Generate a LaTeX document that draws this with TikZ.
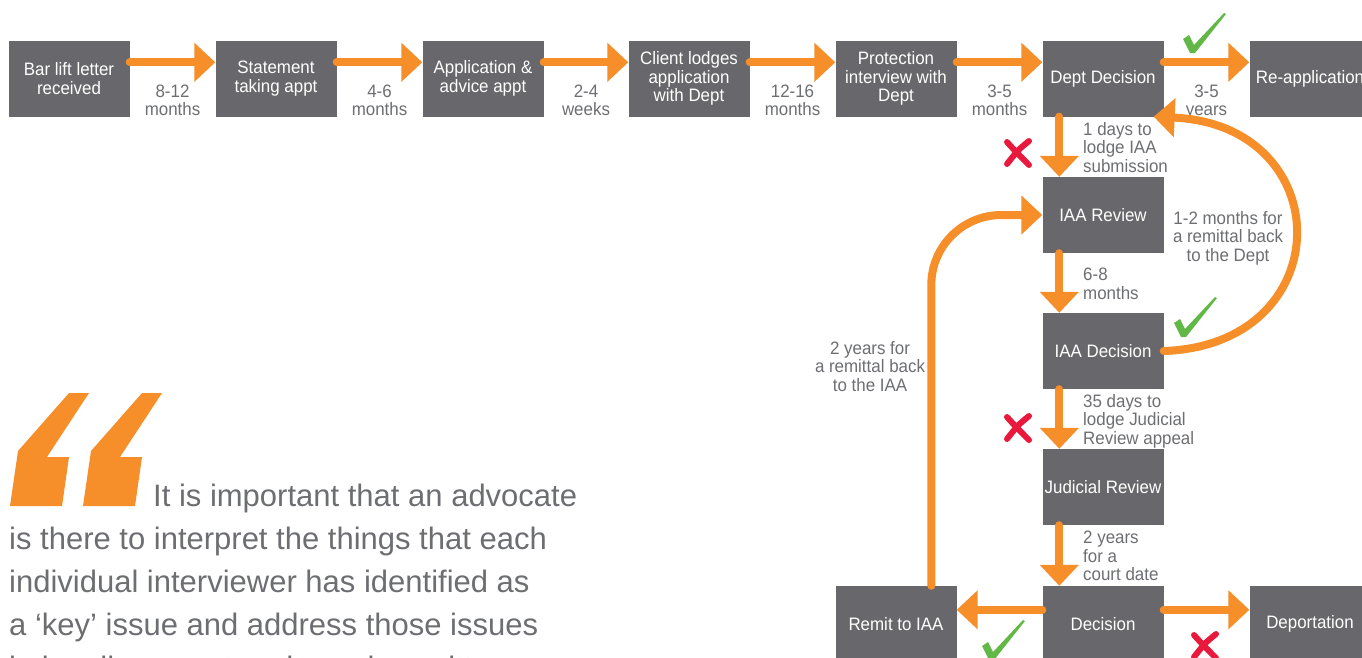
\documentclass[tikz,border=0pt]{standalone}
\usepackage{fontspec}
\setmainfont{Liberation Sans}[FakeStretch=0.94]
\newfontfamily\quotefont{Liberation Sans}
\usetikzlibrary{calc, arrows.meta}
\definecolor{BoxGrey}{RGB}{104,104,108}
\definecolor{FlowOrange}{RGB}{246,142,42}
\definecolor{LabelGrey}{RGB}{109,110,113}
\definecolor{TickGreen}{RGB}{98,184,70}
\definecolor{CrossRed}{RGB}{232,25,60}

\tikzset{
    stage/.style={fill=BoxGrey, text=white, minimum width=121pt, minimum height=76pt,
        inner sep=0pt, align=center, font=\fontsize{18}{18.5}\selectfont},
    wait/.style={text=LabelGrey, inner sep=0pt, font=\fontsize{18}{18.5}\selectfont},
    flow/.style={draw=FlowOrange, line width=8pt, line cap=round,
        -{Triangle[length=21pt,width=38pt]}},
    tickmark/.pic={\fill[TickGreen] (-10,-14) -- (-4,-18) -- (1,-8) -- (31,-40)
        -- (33,-39) -- (2,0) -- (-3,0) -- cycle;},
    crossmark/.pic={\draw[CrossRed, line width=6pt, line cap=round]
        (-11,-11) .. controls (-2,-1) .. (11,12)
        (11,-12) .. controls (0,-3) .. (-11,11);}
}

\begin{document}
\begin{tikzpicture}[x=1pt, y=-1pt]
    \useasboundingbox (0,0) rectangle (1362,657);

    % Ablauf oben
    \node[stage] (bar)       at (69,78.5)   {Bar lift letter\\received};
    \node[stage] (statement) at (276,78.5)  {Statement\\taking appt};
    \node[stage] (advice)    at (483,78.5)  {Application \&\\advice appt};
    \node[stage] (lodges)    at (689,78.5)  {Client lodges\\application\\with Dept};
    \node[stage] (protect)   at (896,78.5)  {Protection\\interview with\\Dept};
    \node[stage] (deptdec)   at (1103,78.5) {Dept Decision};
    \node[stage] (reapp)     at (1310,78.5) {Re-application};

    % Spalte rechts
    \node[stage] (iaarev)   at (1103,215) {IAA Review};
    \node[stage] (iaadec)   at (1103,351) {IAA Decision};
    \node[stage] (judrev)   at (1103,487) {Judicial Review};
    \node[stage] (decision) at (1103,624) {Decision};
    \node[stage] (remit)    at (896,624)  {Remit to IAA};
    \node[stage] (deport)   at (1310,624) {Deportation};

    \draw[flow] ($(bar.north east)+(0,22)$) -- ($(statement.north west)+(0,22)$);
    \draw[flow] ($(statement.north east)+(0,22)$) -- ($(advice.north west)+(0,22)$);
    \draw[flow] ($(advice.north east)+(0,22)$) -- ($(lodges.north west)+(0,22)$);
    \draw[flow] ($(lodges.north east)+(0,22)$) -- ($(protect.north west)+(0,22)$);
    \draw[flow] ($(protect.north east)+(0,22)$) -- ($(deptdec.north west)+(0,22)$);
    \draw[flow] ($(deptdec.north east)+(0,22)$) -- ($(reapp.north west)+(0,22)$);

    \node[wait, anchor=north, align=center] (w1) at ($(bar.east)!.5!(statement.west)+(0,6)$) {8-12\\months};
    \node[wait, anchor=north, align=center] (w2) at ($(statement.east)!.5!(advice.west)+(0,6)$) {4-6\\months};
    \node[wait, anchor=north, align=center] (w3) at ($(advice.east)!.5!(lodges.west)+(0,6)$) {2-4\\weeks};
    \node[wait, anchor=north, align=center] (w4) at ($(lodges.east)!.5!(protect.west)+(0,6)$) {12-16\\months};
    \node[wait, anchor=north, align=center] (w5) at ($(protect.east)!.5!(deptdec.west)+(0,6)$) {3-5\\months};
    \node[wait, anchor=north, align=center] (w6) at ($(deptdec.east)!.5!(reapp.west)+(0,6)$) {3-5\\years};

    \draw[flow] ($(deptdec.south west)+(17,0)$) -- ($(iaarev.north west)+(17,0)$);
    \draw[flow] ($(iaarev.south west)+(17,0)$) -- ($(iaadec.north west)+(17,0)$);
    \draw[flow] ($(iaadec.south west)+(17,0)$) -- ($(judrev.north west)+(17,0)$);
    \draw[flow] ($(judrev.south west)+(17,0)$) -- ($(decision.north west)+(17,0)$);
    \draw[flow] ($(decision.north west)+(0,24)$) -- ($(remit.north east)+(0,24)$);
    \draw[flow] ($(decision.north east)+(0,24)$) -- ($(deport.north west)+(0,24)$);

    % Rueckwege
    \coordinate (backtip) at ($(deptdec.south east)+(-10,0)$);
    \draw[flow] (iaadec.east) .. controls (1340,345) and (1340,125) .. (backtip);
    \draw[flow, rounded corners=70pt] ($(remit.north west)+(96,0)$) |- (iaarev.west);

    \node[wait, anchor=north west, align=left] (w7) at (1083,122) {1 days to\\lodge IAA\\submission};
    \node[wait, anchor=north west, align=left] (w8) at (1083,268) {6-8\\months};
    \node[wait, anchor=north west, align=left] (w9) at (1083,394) {35 days to\\lodge Judicial\\Review appeal};
    \node[wait, anchor=north west, align=left] (w10) at (1083,531) {2 years\\for a\\court date};
    \node[wait, anchor=north, align=center] (w11) at (1228,211) {1-2 months for\\a remittal back\\to the Dept};
    \node[wait, anchor=north, align=center] (w12) at (870,341) {2 years for\\a remittal back\\to the IAA};

    % Haken und Kreuze
    \pic at (1193,53) {tickmark};
    \pic at (1184,337) {tickmark};
    \pic at (992,660) {tickmark};
    \pic at (1018,153) {crossmark};
    \pic at (1018,428) {crossmark};
    \pic at (1205,646) {crossmark};

    % Zitat
    \fill[FlowOrange] (69,393) -- (89,393) -- (47,457) -- (69,457) -- (62,506) -- (10,506) -- (18,451) -- cycle;
    \fill[FlowOrange] (142,393) -- (162,393) -- (120,457) -- (142,457) -- (135,506) -- (83,506) -- (91,451) -- cycle;
    \node[anchor=base west, inner sep=0pt, text=LabelGrey, font=\quotefont\fontsize{31}{43}\selectfont] (q1) at (153,506) {It is important that an advocate};
    \node[anchor=base west, inner sep=0pt, text=LabelGrey, font=\quotefont\fontsize{31}{43}\selectfont] (q2) at (9,549) {is there to interpret the things that each};
    \node[anchor=base west, inner sep=0pt, text=LabelGrey, font=\quotefont\fontsize{31}{43}\selectfont] (q3) at (9,592) {individual interviewer has identified as};
    \node[anchor=base west, inner sep=0pt, text=LabelGrey, font=\quotefont\fontsize{31}{43}\selectfont] (q4) at (9,635) {a ‘key’ issue and address those issues};
    \node[anchor=base west, inner sep=0pt, text=LabelGrey, font=\quotefont\fontsize{31}{43}\selectfont] (q5) at (9,678) {in legally correct and concise written};
\end{tikzpicture}
\end{document}
